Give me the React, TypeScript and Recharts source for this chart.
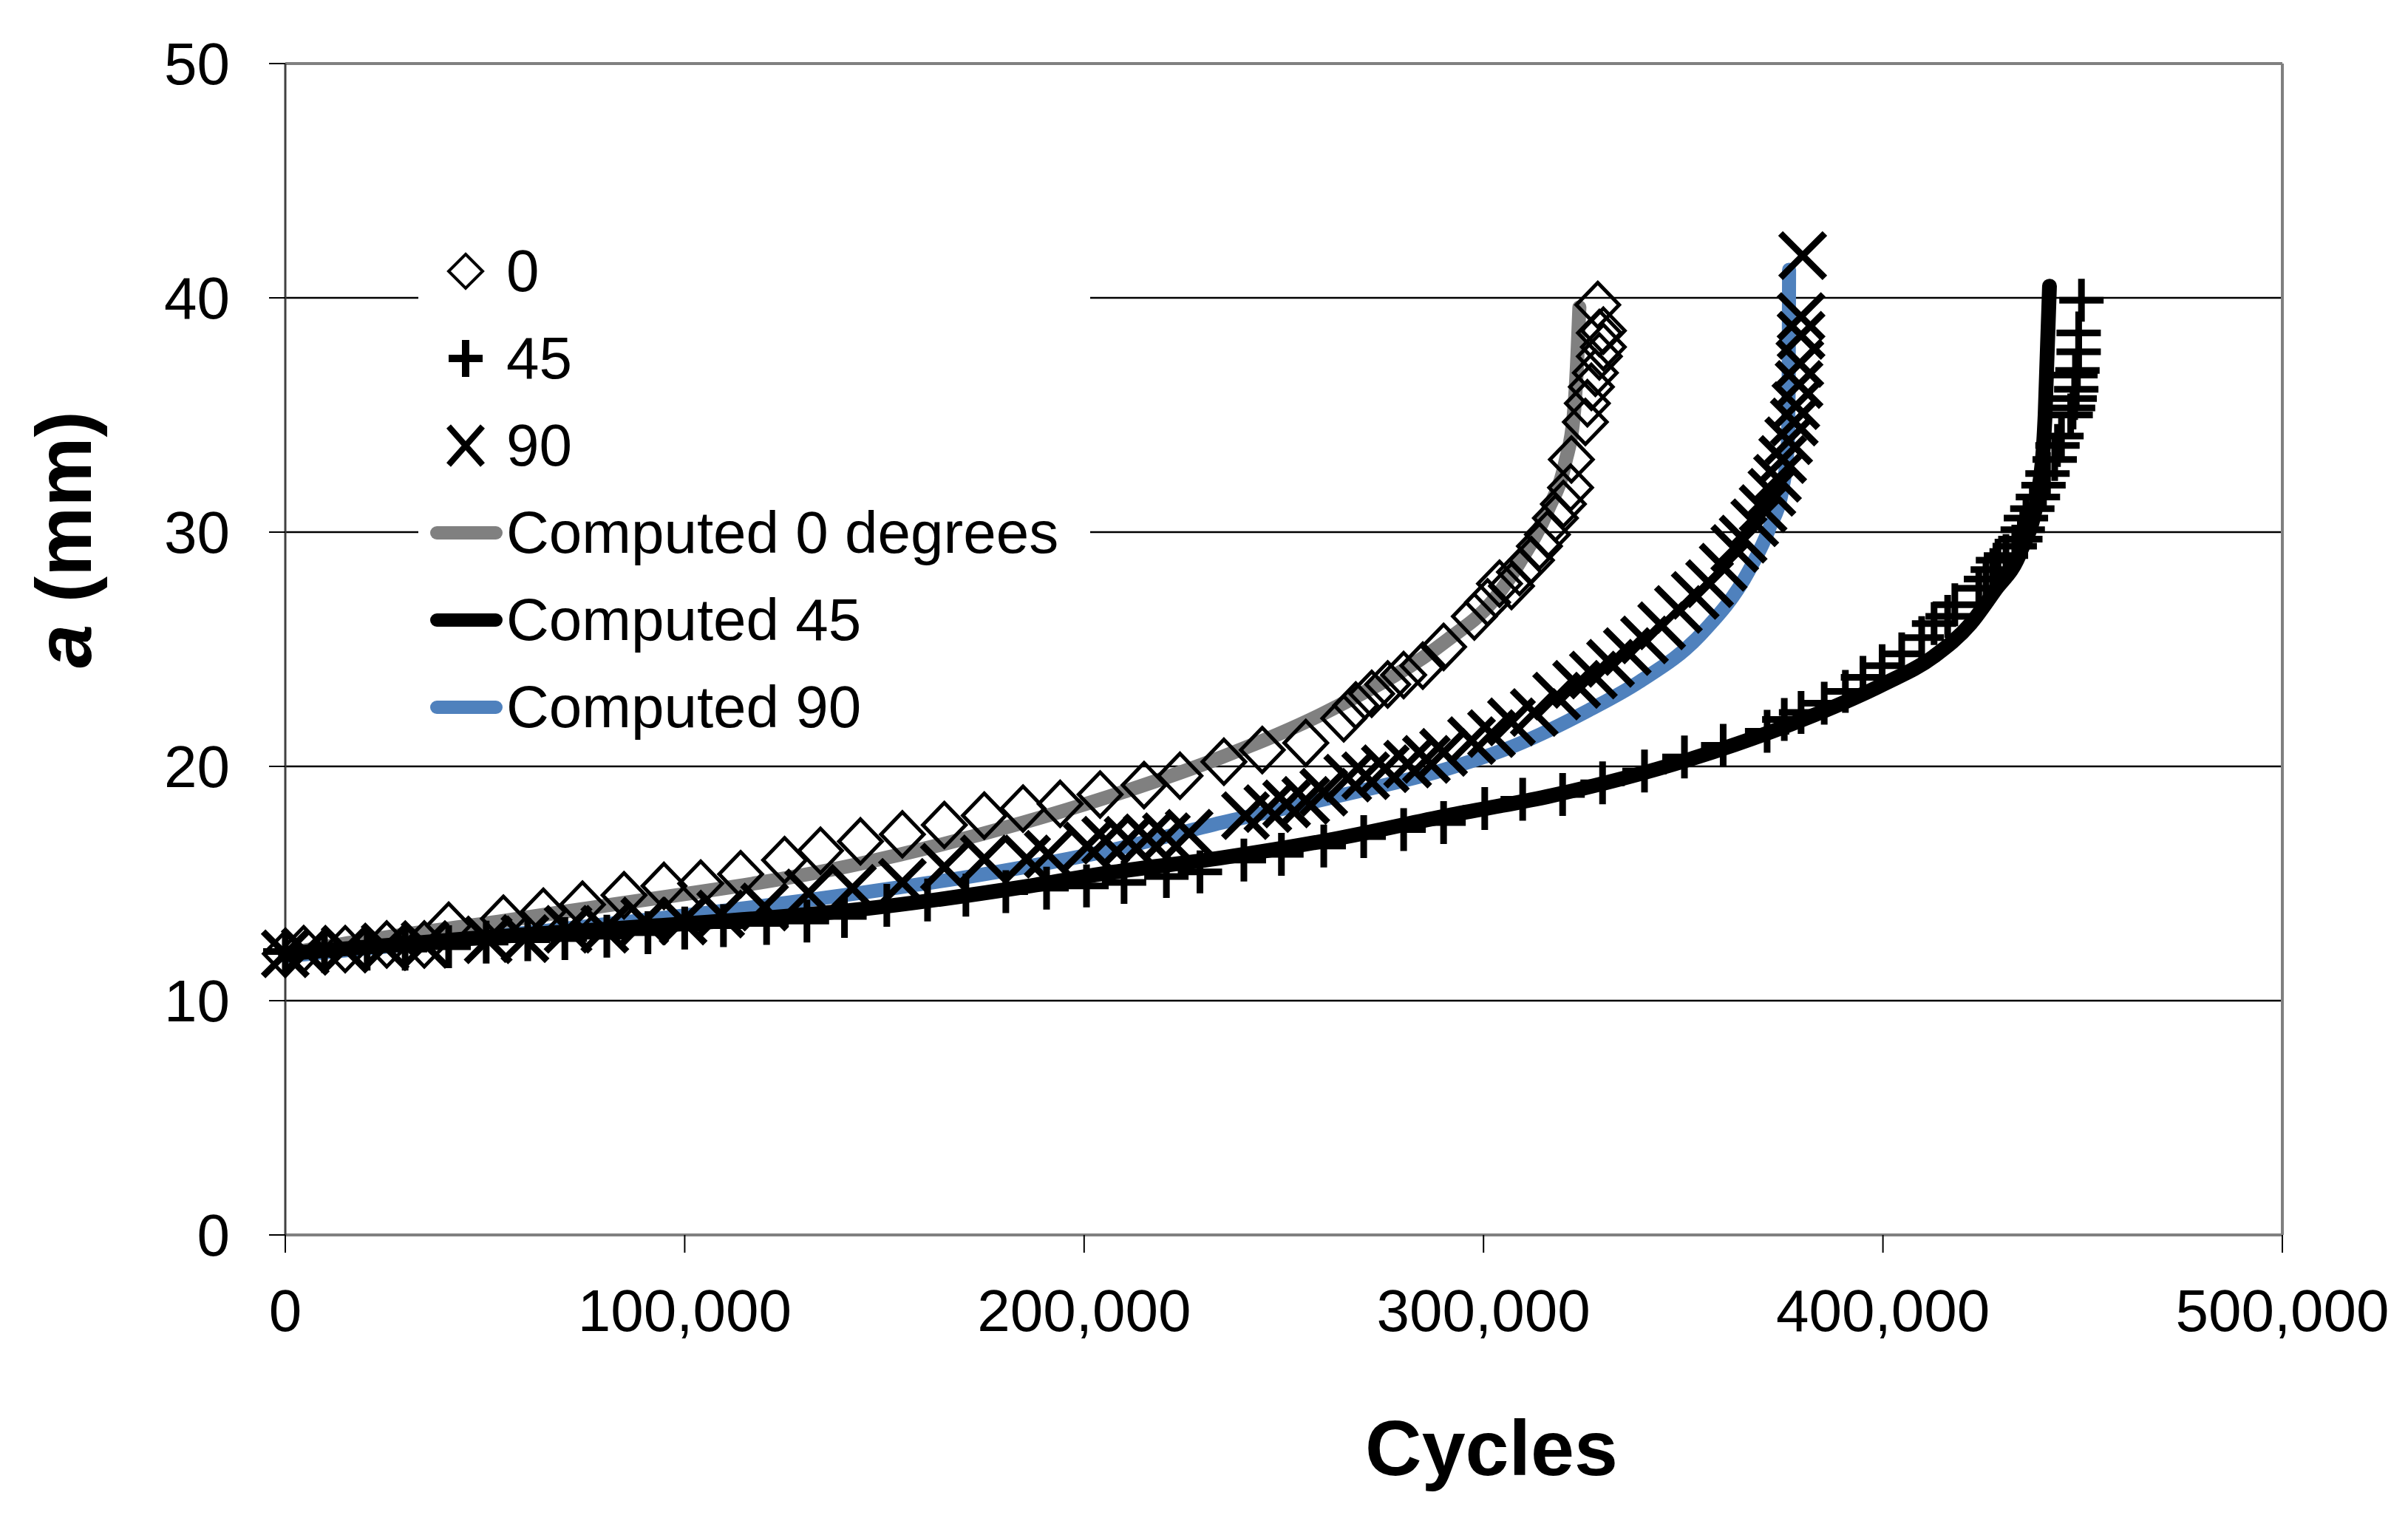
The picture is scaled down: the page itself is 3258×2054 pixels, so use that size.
import React from "react";
import {
  ComposedChart,
  Line,
  Scatter,
  XAxis,
  YAxis,
  CartesianGrid,
  ReferenceLine,
  Legend,
  Label,
} from "recharts";

// measured crack length a (mm) against cycles
const exp0 = [
  [0, 12.0], [4600, 12.2], [15000, 12.2], [25400, 12.4], [34800, 12.4], [40900, 13.2],
  [54600, 13.5], [64600, 13.8], [74400, 14.1], [84800, 14.5], [94800, 14.9], [104000, 15.0],
  [114000, 15.4], [125000, 16.0], [134000, 16.4], [144000, 16.8], [154500, 17.1], [165000, 17.5],
  [175000, 17.9], [184700, 18.2], [194000, 18.4], [204000, 18.8], [215000, 19.2], [224000, 19.6],
  [235000, 20.2], [244600, 20.7], [255500, 21.0], [265000, 22.05], [268000, 22.6], [272000, 23.1],
  [276000, 23.5], [280000, 23.9], [284800, 24.3], [290000, 25.1], [297700, 26.4], [301000, 27.0],
  [304000, 27.8], [307000, 27.7], [309000, 28.3], [312000, 28.8], [314000, 29.4], [316000, 29.9],
  [318000, 30.6], [320000, 31.2], [321800, 31.9], [322000, 33.1], [325500, 34.7], [326000, 35.5],
  [327000, 36.2], [328000, 36.8], [329000, 37.5], [330000, 37.9], [329000, 38.5], [330000, 38.6],
  [328600, 39.7],
];

const exp45 = [
  [0, 12.1], [9800, 12.1], [20500, 12.2], [30000, 12.2], [40900, 12.3], [50300, 12.5],
  [60700, 12.6], [70000, 12.65], [80500, 12.75], [90800, 12.9], [100000, 13.1], [109700, 13.2],
  [120500, 13.3], [130600, 13.4], [140000, 13.6], [150600, 14.07], [160800, 14.3], [170400, 14.5],
  [180400, 14.65], [190600, 14.8], [200600, 14.9], [210000, 15.05], [220600, 15.3], [229000, 15.5],
  [240000, 16.0], [249400, 16.25], [260000, 16.6], [270000, 17.0], [280000, 17.3], [290000, 17.6],
  [300300, 18.2], [309800, 18.6], [319800, 18.8], [329800, 19.3], [340300, 19.8], [350300, 20.4],
  [360000, 20.9], [371000, 21.5], [375300, 22.0], [379500, 22.3], [385300, 22.7], [390600, 23.2],
  [395000, 23.8], [399800, 24.3], [404700, 24.8], [409700, 25.5], [412800, 26.1], [416200, 26.4],
  [418000, 26.9], [424000, 27.6], [425800, 28.0], [427500, 28.4], [428800, 28.8], [430800, 29.0],
  [433000, 29.4], [434400, 29.7], [435000, 30.1], [435800, 30.6], [437400, 31.0], [438800, 31.5],
  [440200, 32.0], [441200, 32.5], [443000, 33.1], [443700, 33.7], [444700, 34.1], [447000, 35.0],
  [447600, 35.3], [448000, 35.7], [448400, 36.1], [448200, 36.7], [448700, 36.9], [449000, 37.7],
  [449000, 38.5], [449700, 39.9],
];

const exp90 = [
  [0, 12.0], [5000, 12.1], [15000, 12.2], [25000, 12.3], [35000, 12.4], [50800, 12.6],
  [60000, 12.65], [70800, 13.05], [80000, 13.05], [90000, 13.4], [99600, 13.4], [109000, 13.7],
  [120000, 14.0], [131000, 14.6], [142000, 14.8], [154500, 15.05], [165000, 15.7], [175000, 16.05],
  [185600, 16.05], [191000, 16.25], [200800, 16.6], [205400, 16.85], [211000, 16.85], [215800, 16.95],
  [220600, 17.0], [226300, 17.15], [240400, 17.9], [246000, 18.2], [250700, 18.4], [255500, 18.55],
  [260000, 18.9], [266000, 19.5], [270500, 19.6], [275400, 19.9], [281000, 20.1], [285700, 20.3],
  [290000, 20.6], [297000, 21.1], [302000, 21.4], [307000, 21.9], [312700, 22.3], [318300, 23.0],
  [323300, 23.5], [327500, 23.9], [331800, 24.4], [336000, 24.9], [340300, 25.4], [344600, 26.0],
  [348800, 26.7], [353000, 27.3], [356600, 27.8], [360000, 28.5], [362900, 29.3], [365000, 29.7],
  [367900, 30.4], [370000, 31.0], [372200, 31.7], [373600, 32.3], [374900, 33.1], [376400, 33.9],
  [377800, 34.7], [378200, 35.4], [379000, 36.3], [379200, 37.2], [379500, 38.4], [379500, 39.2],
  [379900, 41.8],
];

// computed curves
const comp0 = [
  [0, 12.0], [23000, 12.65], [54600, 13.4], [74000, 13.9], [144000, 15.85], [184700, 17.6],
  [206000, 18.7], [234500, 20.4], [262700, 22.5], [291000, 25.4], [302000, 27.0], [309000, 28.7],
  [316000, 30.9], [320500, 33.0], [322600, 35.0], [323500, 37.5], [324000, 39.6],
];

const comp45 = [
  [0, 12.0], [46000, 12.65], [93000, 13.2], [144000, 13.9], [184700, 14.85], [206000, 15.45],
  [234500, 16.1], [262700, 16.9], [291000, 17.9], [317000, 18.75], [351600, 20.3], [380000, 22.0],
  [400000, 23.5], [412800, 24.7], [422000, 26.1], [428000, 27.5], [434300, 29.1], [439000, 31.8],
  [440600, 35.0], [441700, 40.5],
];

const comp90 = [
  [0, 11.9], [46000, 12.65], [93000, 13.5], [144000, 14.6], [175000, 15.4], [206000, 16.4],
  [234500, 17.6], [262700, 18.7], [291000, 19.9], [308000, 20.9], [326400, 22.4], [338900, 23.6],
  [354200, 25.6], [366600, 28.4], [371400, 30.1], [375000, 32.0], [376200, 33.8], [376400, 36.3],
  [376500, 41.2],
];

const xTicks = [0, 100000, 200000, 300000, 400000, 500000];
const yTicks = [0, 10, 20, 30, 40, 50];

const toRows = (arr: number[][]) => arr.map(([x, a]) => ({ x, a }));

const FONT = "'Liberation Sans', Arial, sans-serif";

const Diamond = ({ cx, cy }: any) => (
  <path
    d={`M${cx},${cy - 30} L${cx + 29},${cy} L${cx},${cy + 30} L${cx - 29},${cy} Z`}
    fill="none"
    stroke="#000"
    strokeWidth={5}
  />
);

const Plus = ({ cx, cy }: any) => (
  <path
    d={`M${cx - 30},${cy} H${cx + 30} M${cx},${cy - 29} V${cy + 29}`}
    stroke="#000"
    strokeWidth={9}
  />
);

const Cross = ({ cx, cy }: any) => (
  <path
    d={`M${cx - 30},${cy - 30} L${cx + 30},${cy + 30} M${cx - 30},${cy + 30} L${cx + 30},${cy - 30}`}
    stroke="#000"
    strokeWidth={9}
  />
);

const legendItems = [
  { label: "0", kind: "diamond" },
  { label: "45", kind: "plus" },
  { label: "90", kind: "cross" },
  { label: "Computed 0 degrees", kind: "line", color: "#808080" },
  { label: "Computed 45", kind: "line", color: "#000000" },
  { label: "Computed 90", kind: "line", color: "#4F81BD" },
];

const LegendIcon = ({ kind, color }: any) => {
  const c = 48;
  const m = 30;
  let el: any = null;
  if (kind === "diamond")
    el = <path d={`M${c},${m - 23} L${c + 23},${m} L${c},${m + 23} L${c - 23},${m} Z`} fill="none" stroke="#000" strokeWidth={4} />;
  else if (kind === "plus")
    el = <path d={`M${c - 23},${m} H${c + 23} M${c},${m - 25} V${m + 25}`} stroke="#000" strokeWidth={10} />;
  else if (kind === "cross")
    el = <path d={`M${c - 23},${m - 26} L${c + 23},${m + 26} M${c - 23},${m + 26} L${c + 23},${m - 26}`} stroke="#000" strokeWidth={8} />;
  else el = <path d={`M9,${m} H89`} stroke={color} strokeWidth={18} strokeLinecap="round" />;
  return (
    <svg width={98} height={60} style={{ display: "block", flex: "none" }}>
      {el}
    </svg>
  );
};

const LegendBox = () => (
  <div style={{ background: "#fff", width: "100%", height: "100%", fontFamily: FONT }}>
    {legendItems.map((it) => (
      <div
        key={it.label}
        style={{ display: "flex", alignItems: "center", height: 118, paddingLeft: 16 }}
      >
        <LegendIcon kind={it.kind} color={it.color} />
        <span style={{ fontSize: 80, lineHeight: "80px", marginLeft: 5, color: "#000", whiteSpace: "nowrap" }}>
          {it.label}
        </span>
      </div>
    ))}
  </div>
);

export default function App() {
  return (
    <div style={{ width: 3258, height: 2054, background: "#fff", overflow: "hidden" }}>
      <style>{"body{margin:0;}"}</style>
      <ComposedChart
        width={3258}
        height={2054}
        margin={{ top: 86, right: 170, left: 0, bottom: 0 }}
        style={{ fontFamily: FONT }}
      >
        <CartesianGrid vertical={false} stroke="#000" strokeWidth={2.5} />
        <XAxis
          type="number"
          dataKey="x"
          domain={[0, 500000]}
          ticks={xTicks}
          interval={0}
          height={383}
          tickSize={24}
          tickMargin={49}
          tickFormatter={(v: number) => v.toLocaleString("en-US")}
          tick={{ fontSize: 80, fill: "#000", fontFamily: FONT }}
          tickLine={{ stroke: "#000", strokeWidth: 2 }}
          axisLine={{ stroke: "#808080", strokeWidth: 4 }}
        >
          <Label
            content={() => (
              <text x={2018} y={1996} textAnchor="middle" fontSize={106} fontWeight="bold" fontFamily={FONT} fill="#000">
                Cycles
              </text>
            )}
          />
        </XAxis>
        <YAxis
          type="number"
          dataKey="a"
          domain={[0, 50]}
          ticks={yTicks}
          interval={0}
          width={386}
          tickSize={22}
          tickMargin={53}
          tick={{ fontSize: 80, fill: "#000", fontFamily: FONT }}
          tickLine={{ stroke: "#000", strokeWidth: 2 }}
          axisLine={{ stroke: "#404040", strokeWidth: 3 }}
        >
          <Label
            content={() => (
              <text
                x={123}
                y={730}
                transform="rotate(-90 123 730)"
                textAnchor="middle"
                fontSize={106}
                fontWeight="bold"
                fontFamily={FONT}
                fill="#000"
              >
                <tspan fontStyle="italic">a</tspan> (mm)
              </text>
            )}
          />
        </YAxis>
        <ReferenceLine y={50} stroke="#808080" strokeWidth={4} />
        <ReferenceLine x={500000} stroke="#808080" strokeWidth={4} />

        <Line data={toRows(comp0)} dataKey="a" type="monotone" stroke="#808080" strokeWidth={19} strokeLinecap="round" dot={false} activeDot={false} isAnimationActive={false} name="Computed 0 degrees" />
        <Line data={toRows(comp90)} dataKey="a" type="monotone" stroke="#4F81BD" strokeWidth={19} strokeLinecap="round" dot={false} activeDot={false} isAnimationActive={false} name="Computed 90" />
        <Line data={toRows(comp45)} dataKey="a" type="monotone" stroke="#000000" strokeWidth={20} strokeLinecap="round" dot={false} activeDot={false} isAnimationActive={false} name="Computed 45" />

        <Scatter data={toRows(exp0)} shape={Diamond} isAnimationActive={false} name="0" />
        <Scatter data={toRows(exp45)} shape={Plus} isAnimationActive={false} name="45" />
        <Scatter data={toRows(exp90)} shape={Cross} isAnimationActive={false} name="90" />

        <Legend
          layout="vertical"
          align="center"
          verticalAlign="middle"
          wrapperStyle={{ left: 566, top: 308, width: 909, height: 708 }}
          content={() => <LegendBox />}
        />
      </ComposedChart>
    </div>
  );
}
